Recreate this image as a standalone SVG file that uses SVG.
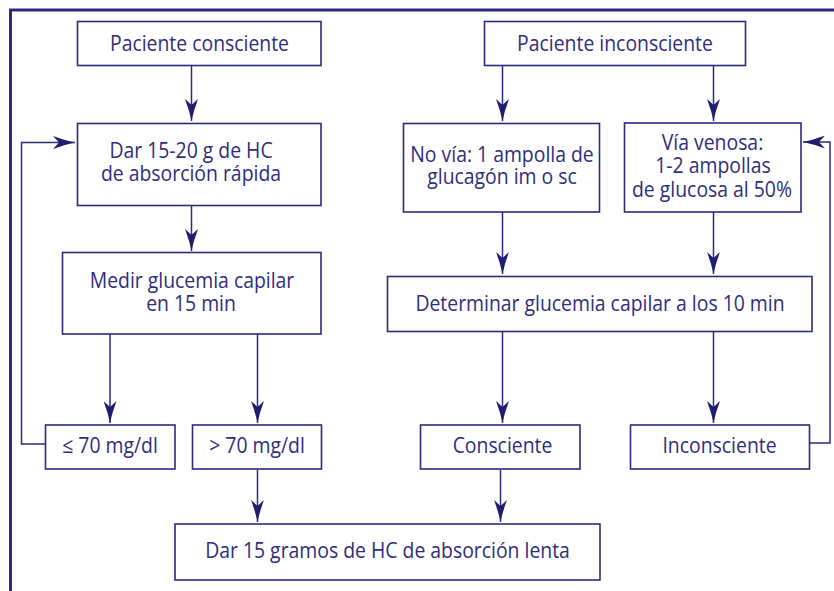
<svg xmlns="http://www.w3.org/2000/svg" width="834" height="591" viewBox="0 0 834 591">
<style>
.box{fill:#fff;stroke:#2b2a7c;stroke-width:1.6}
.t{font-family:"Open Sans","Noto Sans",sans-serif;font-size:19.4px;fill:#2e2d7e;text-anchor:middle}
.ln{fill:none;stroke:#2b2a7c;stroke-width:1.5}
</style>
<defs>
<marker id="ah" markerUnits="userSpaceOnUse" viewBox="0 0 22 13" refX="22" refY="6.5" markerWidth="22" markerHeight="13" orient="auto">
<path d="M0,0 Q12,4.5 22,6.5 Q12,8.5 0,13 L6,6.5 Z" fill="#1f1d70"/>
</marker>
</defs>
<rect width="834" height="591" fill="#fff"/>
<path d="M10.5,591 V10 H834" fill="none" stroke="#2b2a7c" stroke-width="3"/>

<g id="connectors">
<path class="ln" d="M191.5,66 V121" marker-end="url(#ah)"/>
<path class="ln" d="M191.5,206 V251" marker-end="url(#ah)"/>
<path class="ln" d="M110,334 V423" marker-end="url(#ah)"/>
<path class="ln" d="M257.5,334 V423" marker-end="url(#ah)"/>
<path class="ln" d="M257.5,470 V522" marker-end="url(#ah)"/>
<path class="ln" d="M45,444 H21.5 V142.5 H75" marker-end="url(#ah)"/>
<path class="ln" d="M502.5,66 V121" marker-end="url(#ah)"/>
<path class="ln" d="M713.5,66 V121" marker-end="url(#ah)"/>
<path class="ln" d="M502.5,212 V274" marker-end="url(#ah)"/>
<path class="ln" d="M713.5,212 V274" marker-end="url(#ah)"/>
<path class="ln" d="M502.5,332 V423" marker-end="url(#ah)"/>
<path class="ln" d="M713.5,332 V423" marker-end="url(#ah)"/>
<path class="ln" d="M500.5,470 V522" marker-end="url(#ah)"/>
<path class="ln" d="M810,443 H830 V142 H803" marker-end="url(#ah)"/>
</g>

<g id="n1"><rect class="box" x="77.5" y="21.5" width="243.5" height="44"/>
<text class="t" transform="translate(199.5,50.7) scale(1,1.1)">Paciente consciente</text></g>

<g id="n2"><rect class="box" x="484.5" y="21.5" width="261" height="44"/>
<text class="t" transform="translate(615,50.5) scale(1,1.1)">Paciente inconsciente</text></g>

<g id="n3"><rect class="box" x="77.5" y="123.5" width="243.5" height="82"/>
<text class="t" transform="translate(191,157.5) scale(1,1.1)">Dar 15-20 g de HC</text>
<text class="t" transform="translate(191,181) scale(1,1.1)">de absorción rápida</text></g>

<g id="n4"><rect class="box" x="62.5" y="252.5" width="258.5" height="81.5"/>
<text class="t" transform="translate(192,288.3) scale(1,1.1)">Medir glucemia capilar</text>
<text class="t" transform="translate(191,311) scale(1,1.1)">en 15 min</text></g>

<g id="n5"><rect class="box" x="45.5" y="425" width="129.5" height="44"/>
<text class="t" transform="translate(110,453.3) scale(1,1.1)">≤ 70 mg/dl</text></g>

<g id="n6"><rect class="box" x="192.5" y="425" width="129" height="44"/>
<text class="t" transform="translate(257,453.3) scale(1,1.1)">&gt; 70 mg/dl</text></g>

<g id="n7"><rect class="box" x="175" y="524" width="425" height="56"/>
<text class="t" transform="translate(387.5,558.3) scale(1,1.1)">Dar 15 gramos de HC de absorción lenta</text></g>

<g id="n8"><rect class="box" x="403.5" y="123.5" width="196" height="88.5"/>
<text class="t" transform="translate(502,162.3) scale(1,1.1)">No vía: 1 ampolla de</text>
<text class="t" transform="translate(502,184) scale(1,1.1)">glucagón im o sc</text></g>

<g id="n9"><rect class="box" x="624.5" y="123" width="176.5" height="89"/>
<text class="t" transform="translate(712.5,150) scale(1,1.1)">Vía venosa:</text>
<text class="t" transform="translate(713,173.3) scale(1,1.1)">1-2 ampollas</text>
<text class="t" transform="translate(712,196.7) scale(1,1.1)">de glucosa al 50%</text></g>

<g id="n10"><rect class="box" x="387.5" y="276.5" width="424.5" height="55"/>
<text class="t" transform="translate(600,310.7) scale(1,1.1)">Determinar glucemia capilar a los 10 min</text></g>

<g id="n11"><rect class="box" x="420.5" y="425" width="159.5" height="44"/>
<text class="t" transform="translate(502.5,453.3) scale(1,1.1)">Consciente</text></g>

<g id="n12"><rect class="box" x="630.5" y="425" width="179" height="44"/>
<text class="t" transform="translate(719.5,453) scale(1,1.1)">Inconsciente</text></g>
</svg>
